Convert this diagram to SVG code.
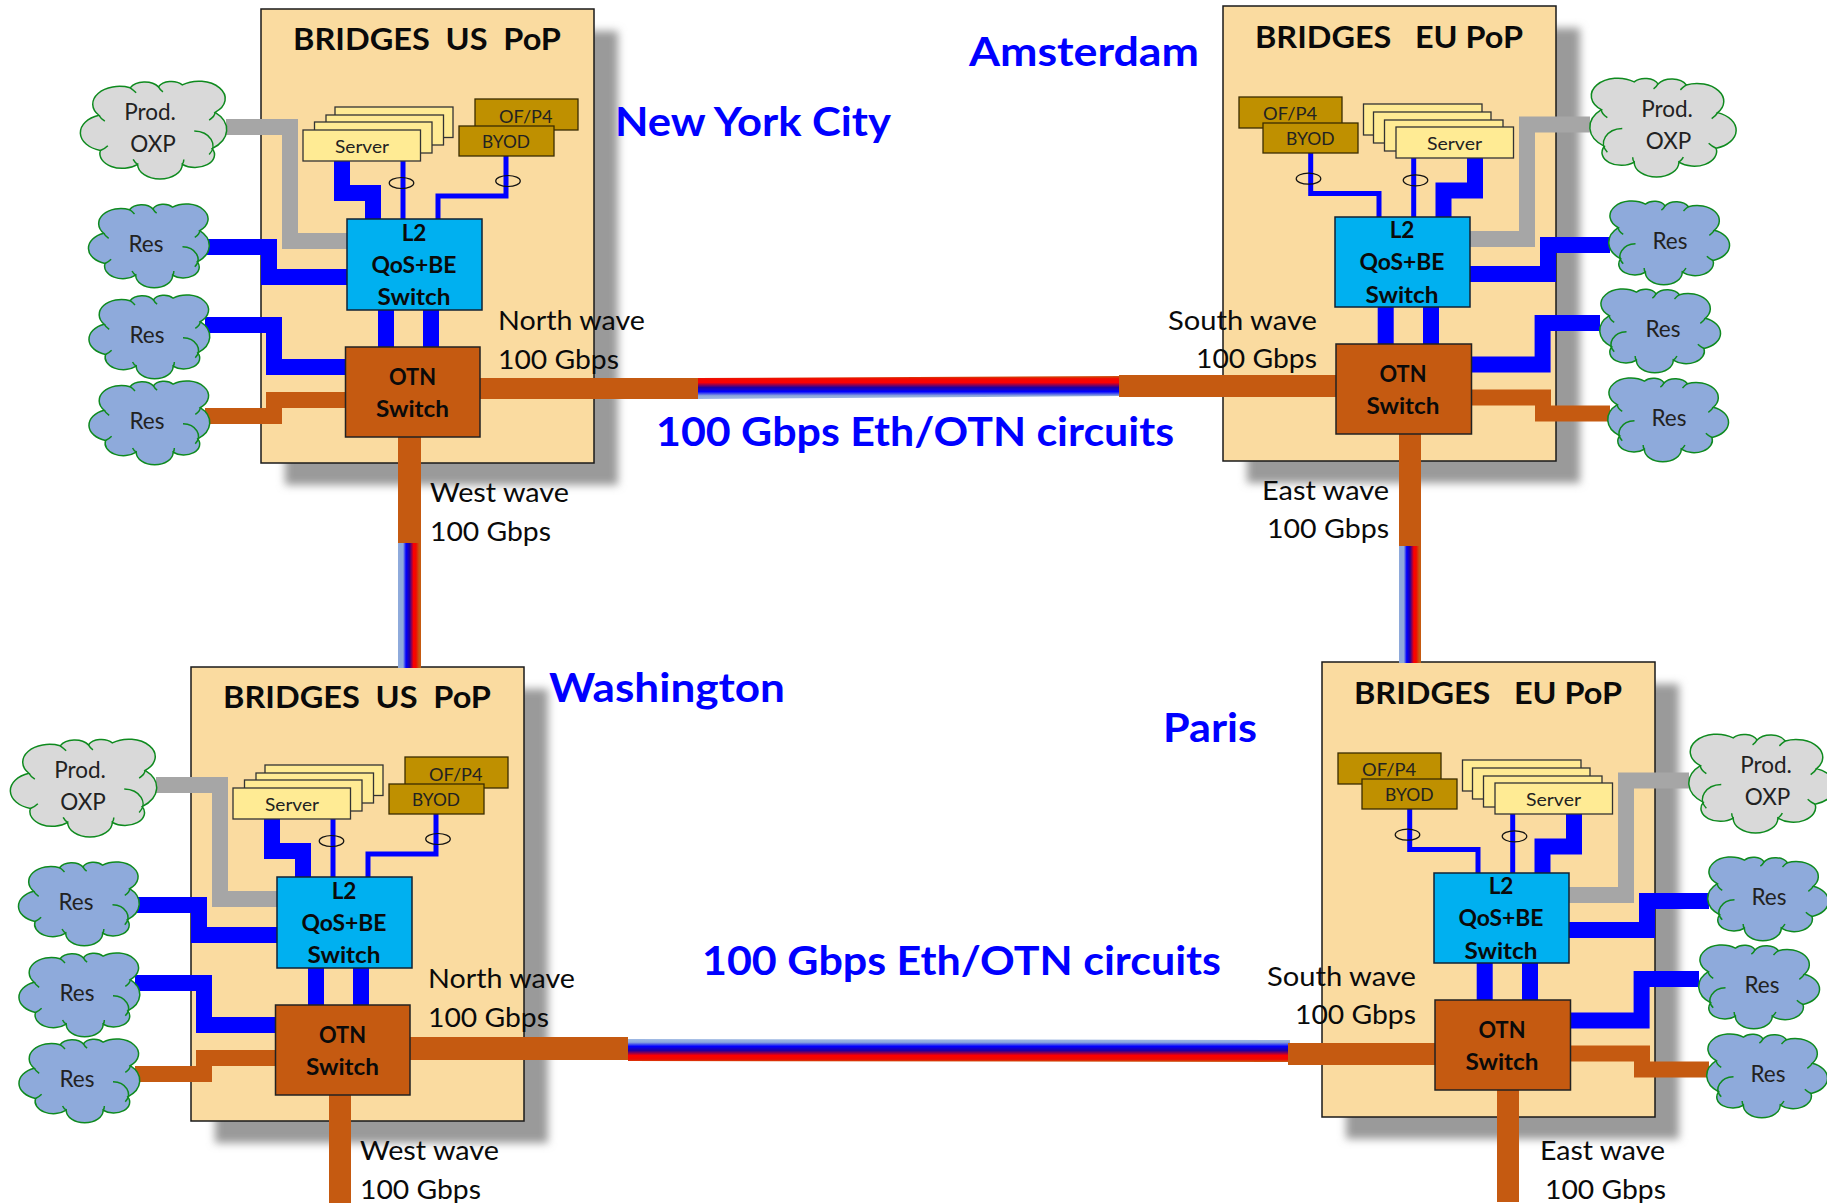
<svg xmlns="http://www.w3.org/2000/svg" xmlns:xlink="http://www.w3.org/1999/xlink" width="1827" height="1203" viewBox="0 0 1827 1203">
<style>
text{font-family:"Lato","Liberation Sans",sans-serif;fill:#0a0a0a;white-space:pre}
.title{font-size:30px;font-weight:700}
.city{font-size:41px;font-weight:700;fill:#0000FF}
.wave{font-size:26.5px}
.sw{font-size:22.5px;font-weight:700;text-anchor:middle}
.cl{font-size:22.5px;fill:#222;text-anchor:middle}
.sm{font-size:17.5px;fill:#222}
.pop{fill:#FADBA0;stroke:#1a1a1a;stroke-width:1.5}
.shadow{fill:#9A9A9A;filter:url(#blur)}
.srv{fill:#FFEB94;stroke:#333;stroke-width:1.3}
.byod{fill:#BF9000;stroke:#3a2c00;stroke-width:1.3}
.l2{fill:#00B0F0;stroke:#123;stroke-width:1.5}
.otn{fill:#C55A11;stroke:#222;stroke-width:1.5}
.link{fill:none;stroke-linejoin:miter}
.b16{stroke:#0000FF;stroke-width:16}
.b5{stroke:#0000FF;stroke-width:5}
.g16{stroke:#A6A6A6;stroke-width:16}
.o16{stroke:#C55A11;stroke-width:16}
.tie{fill:none;stroke:#111;stroke-width:1.2}
.cfill{fill:#D9D9D9}
.rfill{fill:#8EAADB}
.brown{fill:#C55A11}
.cloudline{fill:none;stroke:#0E8A1E;stroke-width:1.5;vector-effect:non-scaling-stroke}
.cloudbody{stroke:#0E8A1E;stroke-width:1.5;vector-effect:non-scaling-stroke}
</style>
<defs>
<filter id="blur" x="-10%" y="-10%" width="120%" height="120%"><feGaussianBlur stdDeviation="4"/></filter>
<linearGradient id="gUp" x1="0" y1="1" x2="0" y2="0"><stop offset="0" stop-color="#9DB8E3"/><stop offset=".14" stop-color="#8EAADB"/><stop offset=".32" stop-color="#0000FF"/><stop offset=".5" stop-color="#2000A0"/><stop offset=".72" stop-color="#FF0000"/><stop offset=".88" stop-color="#F00A00"/><stop offset="1" stop-color="#C55A11"/></linearGradient>
<linearGradient id="gDown" x1="0" y1="0" x2="0" y2="1"><stop offset="0" stop-color="#9DB8E3"/><stop offset=".14" stop-color="#8EAADB"/><stop offset=".32" stop-color="#0000FF"/><stop offset=".5" stop-color="#2000A0"/><stop offset=".72" stop-color="#FF0000"/><stop offset=".88" stop-color="#F00A00"/><stop offset="1" stop-color="#C55A11"/></linearGradient>
<linearGradient id="gSide" x1="0" y1="0" x2="1" y2="0"><stop offset="0" stop-color="#8EAADB"/><stop offset=".22" stop-color="#8EAADB"/><stop offset=".35" stop-color="#0000FF"/><stop offset=".5" stop-color="#2000A0"/><stop offset=".68" stop-color="#FF0000"/><stop offset=".78" stop-color="#F00A00"/><stop offset=".92" stop-color="#C55A11"/></linearGradient>
<g id="cloud">
<path class="cloudbody" d="M12,36A18,18 0 0 1 33,8A11,11 0 0 1 52,7A9.500,9.500 0 0 1 68,5A17,17 0 0 1 90,33A24,24 0 0 1 88,70A13,13 0 0 1 68,86A15,15 0 0 1 38,86A15,15 0 0 1 13,72A19,19 0 0 1 12,36Z"/>
<path class="cloudline" d="M76,52A13,15 0 0 1 86,76M12,36Q13,39 16,42M90,33Q90,37 86,41M13,72Q16,70 18,67M38,86Q36,84 35,81M68,86Q69,84 69,81M52,7Q53,10 55,12M33,8Q35,10 37,13"/>
</g>
<g id="usLinks" class="link">
<path class="g16" d="M226 127H290V241H347"/>
<path class="b16" d="M342 161V193H373V219"/>
<path class="b5" d="M403 161V219"/>
<path class="b5" d="M506 156V196H438V219"/>
<path class="b16" d="M205 247H269V277H347"/>
<path class="b16" d="M205 325H274V367H345"/>
<path class="o16" d="M205 416H274V400H345"/>
<path class="b16" d="M386 310V347M431 310V347"/>
</g>
<g id="euLinks" class="link">
<path class="g16" d="M1590 124.500H1527V239H1470"/>
<path class="b16" d="M1475 158V190.500H1443.500V217"/>
<path class="b5" d="M1413.700 158V217"/>
<path class="b5" d="M1310.700 153V193.500H1379V217"/>
<path class="b16" d="M1610 245H1548V274H1470"/>
<path class="b16" d="M1600 323H1542.600V364.500H1471"/>
<path class="o16" d="M1610 413.500H1543V397.500H1471"/>
<path class="b16" d="M1385.700 307V344M1431 307V344"/>
</g>
</defs>

<g id="pop-boxes">
<g id="nyc-pop"><rect class="shadow" x="285" y="31" width="333" height="454"/><rect class="pop" x="261" y="9" width="333" height="454"/></g>
<g id="ams-pop"><rect class="shadow" x="1247" y="28" width="333" height="455"/><rect class="pop" x="1223" y="6" width="333" height="455"/></g>
<g id="dc-pop"><rect class="shadow" x="215" y="689" width="333" height="454"/><rect class="pop" x="191" y="667" width="333" height="454"/></g>
<g id="par-pop"><rect class="shadow" x="1346" y="684" width="333" height="455"/><rect class="pop" x="1322" y="662" width="333" height="455"/></g>
</g>

<g id="connectors">
<use href="#usLinks"/>
<use href="#usLinks" transform="translate(-70 658)"/>
<use href="#euLinks"/>
<use href="#euLinks" transform="translate(99 656)"/>
<g id="wave-nyc-ams">
<polygon fill="url(#gUp)" points="698,378 1120,376 1120,396 698,399"/>
<polygon class="brown" points="480,378 698,378 698,399 480,399"/>
<polygon class="brown" points="1119,375 1337,375 1337,397 1119,397"/>
</g>
<g id="wave-dc-par">
<polygon fill="url(#gDown)" points="628,1039 1290,1040 1290,1062 628,1061"/>
<polygon class="brown" points="410,1037 628,1037 628,1060 410,1060"/>
<polygon class="brown" points="1288,1043 1436,1043 1436,1065 1288,1065"/>
</g>
<g id="wave-nyc-dc">
<rect fill="url(#gSide)" x="398" y="543" width="23" height="125"/>
<rect class="brown" x="398" y="437" width="23" height="106"/>
</g>
<g id="wave-ams-par">
<rect fill="url(#gSide)" x="1399" y="546" width="22" height="117"/>
<rect class="brown" x="1399" y="434" width="22" height="112"/>
</g>
<rect id="stub-dc" class="brown" x="329" y="1095" width="22" height="108"/>
<rect id="stub-par" class="brown" x="1497" y="1090" width="22" height="112"/>
</g>

<text class="title" x="293" y="50" textLength="268" lengthAdjust="spacingAndGlyphs">BRIDGES  US  PoP</text>
<text class="title" x="1255" y="47.500" textLength="268" lengthAdjust="spacingAndGlyphs">BRIDGES   EU PoP</text>
<text class="title" x="223" y="708" textLength="268" lengthAdjust="spacingAndGlyphs">BRIDGES  US  PoP</text>
<text class="title" x="1354" y="703.500" textLength="268" lengthAdjust="spacingAndGlyphs">BRIDGES   EU PoP</text>

<!-- New York -->
<g id="nyc-server"><rect class="srv" x="335" y="107" width="118" height="30.500"/><rect class="srv" x="326" y="115" width="117.500" height="30"/><rect class="srv" x="314.500" y="122" width="117.500" height="31"/><rect class="srv" x="303" y="130" width="117.500" height="31"/><text class="sm" x="335" y="152.700" textLength="54" lengthAdjust="spacingAndGlyphs">Server</text></g>
<g id="nyc-ofp4"><rect class="byod" x="475" y="99" width="103" height="31"/><text class="sm" x="499" y="122.700" textLength="53.500" lengthAdjust="spacingAndGlyphs">OF/P4</text></g>
<g id="nyc-byod"><rect class="byod" x="459" y="126" width="95" height="30"/><text class="sm" x="482" y="148" textLength="48" lengthAdjust="spacingAndGlyphs">BYOD</text></g>
<g id="nyc-ties"><ellipse class="tie" cx="401.500" cy="183" rx="12.300" ry="5.500"/><ellipse class="tie" cx="508" cy="181" rx="12.300" ry="5.500"/></g>
<g id="nyc-l2"><rect class="l2" x="347" y="219" width="135" height="91"/><text class="sw" x="414" y="241">L2</text><text class="sw" x="414" y="273" textLength="85" lengthAdjust="spacingAndGlyphs">QoS+BE</text><text class="sw" x="414" y="305" textLength="73" lengthAdjust="spacingAndGlyphs">Switch</text></g>
<g id="nyc-otn"><rect class="otn" x="345.500" y="347" width="134.500" height="90"/><text class="sw" x="412.500" y="385" textLength="47" lengthAdjust="spacingAndGlyphs">OTN</text><text class="sw" x="412.500" y="417" textLength="73" lengthAdjust="spacingAndGlyphs">Switch</text></g>
<g id="nyc-oxp"><use class="cfill" href="#cloud" transform="translate(81 80) scale(1.49 .98)"/><text class="cl" x="150" y="120">Prod.</text><text class="cl" x="153" y="152">OXP</text></g>
<g id="nyc-res1"><use class="rfill" href="#cloud" transform="translate(89 203) scale(1.23 .84)"/><text class="cl" x="146" y="252">Res</text></g>
<g id="nyc-res2"><use class="rfill" href="#cloud" transform="translate(89.500 294) scale(1.23 .84)"/><text class="cl" x="147" y="343">Res</text></g>
<g id="nyc-res3"><use class="rfill" href="#cloud" transform="translate(89.500 380) scale(1.23 .84)"/><text class="cl" x="147" y="429">Res</text></g>

<!-- Washington -->
<g id="dc-server"><rect class="srv" x="265" y="765" width="118" height="30.500"/><rect class="srv" x="256" y="773" width="117.500" height="30"/><rect class="srv" x="244.500" y="780" width="117.500" height="31"/><rect class="srv" x="233" y="788" width="117.500" height="31"/><text class="sm" x="265" y="810.700" textLength="54" lengthAdjust="spacingAndGlyphs">Server</text></g>
<g id="dc-ofp4"><rect class="byod" x="405" y="757" width="103" height="31"/><text class="sm" x="429" y="780.700" textLength="53.500" lengthAdjust="spacingAndGlyphs">OF/P4</text></g>
<g id="dc-byod"><rect class="byod" x="389" y="784" width="95" height="30"/><text class="sm" x="412" y="806" textLength="48" lengthAdjust="spacingAndGlyphs">BYOD</text></g>
<g id="dc-ties"><ellipse class="tie" cx="331.500" cy="841" rx="12.300" ry="5.500"/><ellipse class="tie" cx="438" cy="839" rx="12.300" ry="5.500"/></g>
<g id="dc-l2"><rect class="l2" x="277" y="877" width="135" height="91"/><text class="sw" x="344" y="899">L2</text><text class="sw" x="344" y="931" textLength="85" lengthAdjust="spacingAndGlyphs">QoS+BE</text><text class="sw" x="344" y="963" textLength="73" lengthAdjust="spacingAndGlyphs">Switch</text></g>
<g id="dc-otn"><rect class="otn" x="275.500" y="1005" width="134.500" height="90"/><text class="sw" x="342.500" y="1043" textLength="47" lengthAdjust="spacingAndGlyphs">OTN</text><text class="sw" x="342.500" y="1075" textLength="73" lengthAdjust="spacingAndGlyphs">Switch</text></g>
<g id="dc-oxp"><use class="cfill" href="#cloud" transform="translate(11 738) scale(1.49 .98)"/><text class="cl" x="80" y="778">Prod.</text><text class="cl" x="83" y="810">OXP</text></g>
<g id="dc-res1"><use class="rfill" href="#cloud" transform="translate(19 861) scale(1.23 .84)"/><text class="cl" x="76" y="910">Res</text></g>
<g id="dc-res2"><use class="rfill" href="#cloud" transform="translate(19.500 952) scale(1.23 .84)"/><text class="cl" x="77" y="1001">Res</text></g>
<g id="dc-res3"><use class="rfill" href="#cloud" transform="translate(19.500 1038) scale(1.23 .84)"/><text class="cl" x="77" y="1087">Res</text></g>

<!-- Amsterdam -->
<g id="ams-ofp4"><rect class="byod" x="1239" y="97" width="103" height="31"/><text class="sm" x="1263" y="120" textLength="54" lengthAdjust="spacingAndGlyphs">OF/P4</text></g>
<g id="ams-byod"><rect class="byod" x="1263" y="123" width="95" height="30"/><text class="sm" x="1286" y="145" textLength="48.500" lengthAdjust="spacingAndGlyphs">BYOD</text></g>
<g id="ams-server"><rect class="srv" x="1363.500" y="104" width="118.500" height="31"/><rect class="srv" x="1373.500" y="112" width="117.500" height="31"/><rect class="srv" x="1384.500" y="120" width="118.500" height="31"/><rect class="srv" x="1396" y="127" width="117.500" height="31"/><text class="sm" x="1427" y="150" textLength="55" lengthAdjust="spacingAndGlyphs">Server</text></g>
<g id="ams-ties"><ellipse class="tie" cx="1308.500" cy="178.700" rx="12.300" ry="5.500"/><ellipse class="tie" cx="1415.500" cy="180.300" rx="12.300" ry="5.500"/></g>
<g id="ams-l2"><rect class="l2" x="1335" y="217" width="135" height="90"/><text class="sw" x="1402" y="238">L2</text><text class="sw" x="1402" y="270" textLength="85" lengthAdjust="spacingAndGlyphs">QoS+BE</text><text class="sw" x="1402" y="303" textLength="73" lengthAdjust="spacingAndGlyphs">Switch</text></g>
<g id="ams-otn"><rect class="otn" x="1336" y="344" width="135.500" height="90"/><text class="sw" x="1403" y="382" textLength="47" lengthAdjust="spacingAndGlyphs">OTN</text><text class="sw" x="1403" y="414" textLength="73" lengthAdjust="spacingAndGlyphs">Switch</text></g>
<g id="ams-oxp"><use class="cfill" href="#cloud" transform="translate(1735.500 77) scale(-1.49 .99)"/><text class="cl" x="1667" y="117">Prod.</text><text class="cl" x="1668.500" y="149">OXP</text></g>
<g id="ams-res1"><use class="rfill" href="#cloud" transform="translate(1729 200) scale(-1.23 .84)"/><text class="cl" x="1670" y="249">Res</text></g>
<g id="ams-res2"><use class="rfill" href="#cloud" transform="translate(1720 288) scale(-1.23 .84)"/><text class="cl" x="1663" y="337">Res</text></g>
<g id="ams-res3"><use class="rfill" href="#cloud" transform="translate(1728 377) scale(-1.23 .84)"/><text class="cl" x="1669" y="426">Res</text></g>

<!-- Paris -->
<g id="par-ofp4"><rect class="byod" x="1338" y="753" width="103" height="31"/><text class="sm" x="1362" y="776" textLength="54" lengthAdjust="spacingAndGlyphs">OF/P4</text></g>
<g id="par-byod"><rect class="byod" x="1362" y="779" width="95" height="30"/><text class="sm" x="1385" y="801" textLength="48.500" lengthAdjust="spacingAndGlyphs">BYOD</text></g>
<g id="par-server"><rect class="srv" x="1462.500" y="760" width="118.500" height="31"/><rect class="srv" x="1472.500" y="768" width="117.500" height="31"/><rect class="srv" x="1483.500" y="776" width="118.500" height="31"/><rect class="srv" x="1495" y="783" width="117.500" height="31"/><text class="sm" x="1526" y="806" textLength="55" lengthAdjust="spacingAndGlyphs">Server</text></g>
<g id="par-ties"><ellipse class="tie" cx="1407.500" cy="834.700" rx="12.300" ry="5.500"/><ellipse class="tie" cx="1514.500" cy="836.300" rx="12.300" ry="5.500"/></g>
<g id="par-l2"><rect class="l2" x="1434" y="873" width="135" height="90"/><text class="sw" x="1501" y="894">L2</text><text class="sw" x="1501" y="926" textLength="85" lengthAdjust="spacingAndGlyphs">QoS+BE</text><text class="sw" x="1501" y="959" textLength="73" lengthAdjust="spacingAndGlyphs">Switch</text></g>
<g id="par-otn"><rect class="otn" x="1435" y="1000" width="135.500" height="90"/><text class="sw" x="1502" y="1038" textLength="47" lengthAdjust="spacingAndGlyphs">OTN</text><text class="sw" x="1502" y="1070" textLength="73" lengthAdjust="spacingAndGlyphs">Switch</text></g>
<g id="par-oxp"><use class="cfill" href="#cloud" transform="translate(1834.500 733) scale(-1.49 .99)"/><text class="cl" x="1766" y="773">Prod.</text><text class="cl" x="1767.500" y="805">OXP</text></g>
<g id="par-res1"><use class="rfill" href="#cloud" transform="translate(1828 856) scale(-1.23 .84)"/><text class="cl" x="1769" y="905">Res</text></g>
<g id="par-res2"><use class="rfill" href="#cloud" transform="translate(1819 944) scale(-1.23 .84)"/><text class="cl" x="1762" y="993">Res</text></g>
<g id="par-res3"><use class="rfill" href="#cloud" transform="translate(1827 1033) scale(-1.23 .84)"/><text class="cl" x="1768" y="1082">Res</text></g>

<g id="labels">
<text class="city" x="615" y="136" textLength="276" lengthAdjust="spacingAndGlyphs">New York City</text>
<text class="city" x="969" y="66" textLength="230" lengthAdjust="spacingAndGlyphs">Amsterdam</text>
<text class="city" x="549" y="702" textLength="236" lengthAdjust="spacingAndGlyphs">Washington</text>
<text class="city" x="1163" y="742" textLength="94" lengthAdjust="spacingAndGlyphs">Paris</text>
<text class="city" x="656" y="446" textLength="518" lengthAdjust="spacingAndGlyphs">100 Gbps Eth/OTN circuits</text>
<text class="city" x="702" y="975" textLength="519" lengthAdjust="spacingAndGlyphs">100 Gbps Eth/OTN circuits</text>
<text class="wave" x="498" y="330" textLength="147" lengthAdjust="spacingAndGlyphs">North wave</text>
<text class="wave" x="498" y="369" textLength="121" lengthAdjust="spacingAndGlyphs">100 Gbps</text>
<text class="wave" x="430" y="502" textLength="139" lengthAdjust="spacingAndGlyphs">West wave</text>
<text class="wave" x="430" y="541" textLength="121" lengthAdjust="spacingAndGlyphs">100 Gbps</text>
<text class="wave" x="1168" y="330" textLength="149" lengthAdjust="spacingAndGlyphs">South wave</text>
<text class="wave" x="1196" y="368" textLength="121" lengthAdjust="spacingAndGlyphs">100 Gbps</text>
<text class="wave" x="1262" y="500" textLength="127" lengthAdjust="spacingAndGlyphs">East wave</text>
<text class="wave" x="1267" y="538" textLength="122" lengthAdjust="spacingAndGlyphs">100 Gbps</text>
<text class="wave" x="428" y="988" textLength="147" lengthAdjust="spacingAndGlyphs">North wave</text>
<text class="wave" x="428" y="1027" textLength="121" lengthAdjust="spacingAndGlyphs">100 Gbps</text>
<text class="wave" x="360" y="1160" textLength="139" lengthAdjust="spacingAndGlyphs">West wave</text>
<text class="wave" x="360" y="1199" textLength="121" lengthAdjust="spacingAndGlyphs">100 Gbps</text>
<text class="wave" x="1267" y="986" textLength="149" lengthAdjust="spacingAndGlyphs">South wave</text>
<text class="wave" x="1295" y="1024" textLength="121" lengthAdjust="spacingAndGlyphs">100 Gbps</text>
<text class="wave" x="1540" y="1160" textLength="125" lengthAdjust="spacingAndGlyphs">East wave</text>
<text class="wave" x="1545" y="1198.500" textLength="121" lengthAdjust="spacingAndGlyphs">100 Gbps</text>
</g>
</svg>
